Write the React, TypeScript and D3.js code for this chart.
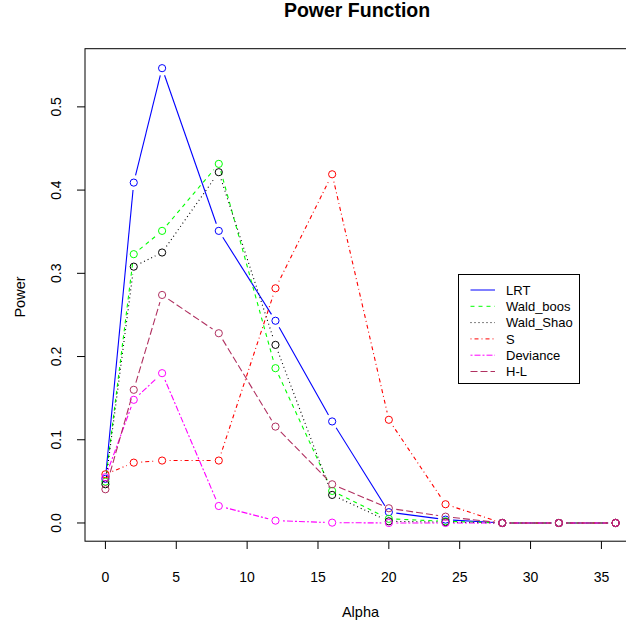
import React from "react";
import * as d3 from "d3";

const alphaValues = [0, 2, 4, 8, 12, 16, 20, 24, 28, 32, 36];
const seriesNames = ["LRT", "Wald_boos", "Wald_Shao", "S", "Deviance", "H-L"];
const lrt = [0.053, 0.409, 0.5465, 0.351, 0.243, 0.122, 0.013, 0.004, 0, 0, 0];
const waldBoos = [0.0497, 0.323, 0.351, 0.4315, 0.186, 0.0385, 0.005, 0.002, 0, 0, 0];
const waldShao = [0.0465, 0.308, 0.325, 0.4215, 0.214, 0.0337, 0.002, 0.001, 0, 0, 0];
const sStat = [0.0585, 0.0725, 0.075, 0.075, 0.282, 0.419, 0.124, 0.0225, 0, 0, 0];
const deviance = [0.055, 0.148, 0.18, 0.0204, 0.0028, 0.0004, 0, 0, 0, 0, 0];
const hl = [0.0405, 0.16, 0.274, 0.228, 0.1158, 0.0465, 0.0177, 0.0076, 0, 0, 0];
const xTicks = [0, 5, 10, 15, 20, 25, 30, 35];
const yTicks = [0, 0.1, 0.2, 0.3, 0.4, 0.5];

const seriesValues = [lrt, waldBoos, waldShao, sStat, deviance, hl];
const colors = ["#0000FF", "#00FF00", "#000000", "#FF0000", "#FF00FF", "#B03060"];
const dashes = ["", "4,4", "1,3", "1,3,4,3", "2,2,6,2", "7,3"];

const FONT = "'Liberation Sans', Arial, Helvetica, sans-serif";

export default function App() {
  const x = d3.scaleLinear().domain([-1.44, 37.44]).range([85, 636]);
  const y = d3.scaleLinear().domain([-0.0219, 0.5699]).range([541.2, 48.7]);
  const r = 3.6;
  const gap = 7.5;

  const segs = (vals: number[]) => {
    const out: { x1: number; y1: number; x2: number; y2: number }[] = [];
    for (let i = 0; i < vals.length - 1; i++) {
      const ax = x(alphaValues[i]), ay = y(vals[i]);
      const bx = x(alphaValues[i + 1]), by = y(vals[i + 1]);
      const dx = bx - ax, dy = by - ay;
      const len = Math.hypot(dx, dy);
      if (len <= 2 * gap) continue;
      const ux = dx / len, uy = dy / len;
      out.push({ x1: ax + ux * gap, y1: ay + uy * gap, x2: bx - ux * gap, y2: by - uy * gap });
    }
    return out;
  };

  const legX = 458.5, legY = 274.5, legW = 121, legH = 109;
  const rowY = (i: number) => 290 + i * 16.3;

  return (
    <svg width={626} height={625} style={{ position: "absolute", left: 0, top: 0, background: "#fff" }}>
      <rect x={0} y={0} width={626} height={625} fill="#fff" />
      <text x={357} y={17} textAnchor="middle" fontFamily={FONT} fontWeight="bold" fontSize={19.5}>Power Function</text>
      {seriesValues.map((vals, si) => (
        <g key={seriesNames[si]}>
          {segs(vals).map((s, i) => (
            <line key={i} x1={s.x1} y1={s.y1} x2={s.x2} y2={s.y2} stroke={colors[si]} strokeWidth={1.1} strokeDasharray={dashes[si]} />
          ))}
          {vals.map((v, i) => (
            <circle key={i} cx={x(alphaValues[i])} cy={y(v)} r={r} fill="none" stroke={colors[si]} strokeWidth={1} />
          ))}
        </g>
      ))}
      <rect x={85} y={48.7} width={551} height={492.5} fill="none" stroke="#000" strokeWidth={1} />
      {xTicks.map((t) => (
        <g key={t}>
          <line x1={x(t)} x2={x(t)} y1={541.2} y2={549} stroke="#000" />
          <text x={x(t)} y={582} textAnchor="middle" fontFamily={FONT} fontSize={14}>{t}</text>
        </g>
      ))}
      {yTicks.map((t) => (
        <g key={t}>
          <line x1={85} x2={77} y1={y(t)} y2={y(t)} stroke="#000" />
          <text transform={`translate(61,${y(t)}) rotate(-90)`} textAnchor="middle" fontFamily={FONT} fontSize={14}>{t.toFixed(1)}</text>
        </g>
      ))}
      <text x={360.5} y={617} textAnchor="middle" fontFamily={FONT} fontSize={14.5}>Alpha</text>
      <text transform={`translate(25,297) rotate(-90)`} textAnchor="middle" fontFamily={FONT} fontSize={14.5}>Power</text>
      <rect x={legX} y={legY} width={legW} height={legH} fill="#fff" stroke="#000" strokeWidth={1} />
      {seriesNames.map((n, i) => (
        <g key={n}>
          <line x1={470.5} x2={495} y1={rowY(i)} y2={rowY(i)} stroke={colors[i]} strokeDasharray={dashes[i]} />
          <text x={506} y={rowY(i) + 4.8} fontFamily={FONT} fontSize={13}>{n}</text>
        </g>
      ))}
    </svg>
  );
}
